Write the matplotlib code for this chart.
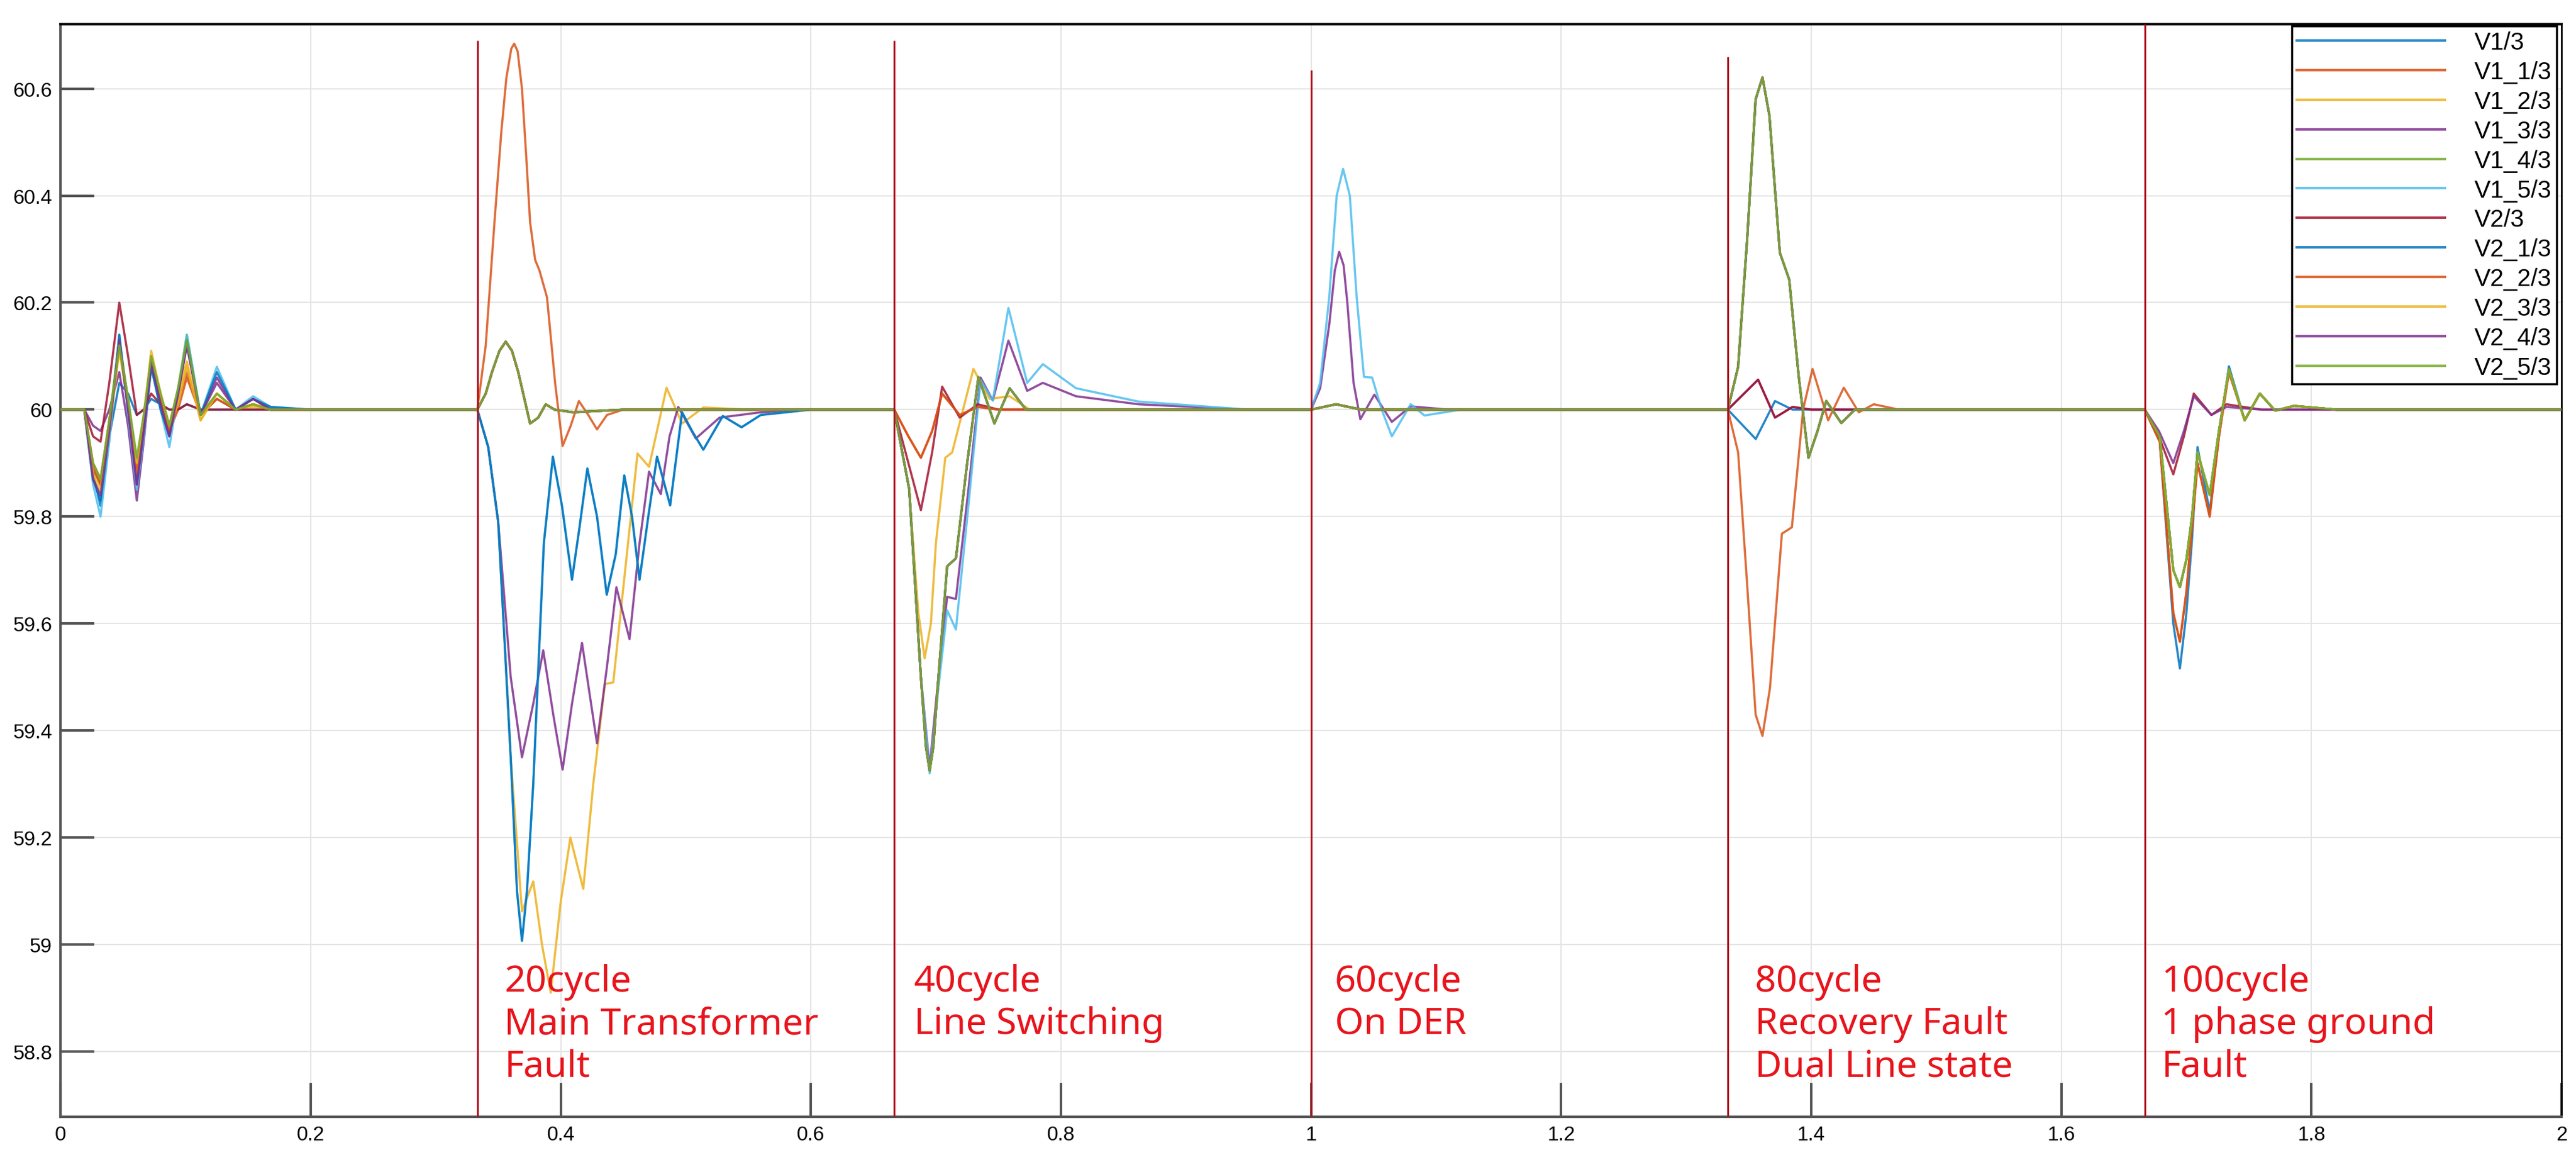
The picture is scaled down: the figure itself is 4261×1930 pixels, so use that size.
import numpy as np
import matplotlib
matplotlib.use("Agg")
import matplotlib.pyplot as plt

NAMES = ["V1/3", "V1_1/3", "V1_2/3", "V1_3/3", "V1_4/3", "V1_5/3",
         "V2/3", "V2_1/3", "V2_2/3", "V2_3/3", "V2_4/3", "V2_5/3"]
COLORS = ["#0072BD", "#D95319", "#EDB120", "#7E2F8E", "#77AC30", "#4DBEEE",
          "#A2142F", "#0072BD", "#D95319", "#EDB120", "#7E2F8E", "#77AC30"]

# start-up oscillation, common time base, one row per series
E0_T = [0.019, 0.026, 0.032, 0.039, 0.047, 0.054, 0.061, 0.0665, 0.0725, 0.08, 0.087, 0.094, 0.101,
        0.112, 0.125, 0.14, 0.154, 0.168, 0.2]
E0_V = [
    [60, 59.88, 59.82, 59.95, 60.05, 60.03, 59.99, 60.0, 60.02, 60.01, 60.0, 60.0, 60.01, 60, 60, 60, 60, 60, 60],
    [60, 59.9, 59.87, 59.98, 60.12, 60.02, 59.9, 59.98, 60.1, 60.02, 59.96, 60.0, 60.06, 59.99, 60.02, 60, 60.01, 60, 60],
    [60, 59.89, 59.86, 59.97, 60.12, 60.01, 59.89, 59.98, 60.11, 60.03, 59.97, 60.02, 60.09, 59.98, 60.03, 60, 60.005, 60, 60],
    [60, 59.97, 59.96, 60.0, 60.07, 59.97, 59.83, 59.94, 60.08, 60.01, 59.95, 60.03, 60.12, 59.99, 60.06, 60, 60.02, 60, 60],
    [60, 59.89, 59.86, 59.98, 60.13, 60.02, 59.9, 59.98, 60.1, 60.03, 59.97, 60.04, 60.14, 59.99, 60.03, 60, 60.01, 60, 60],
    [60, 59.86, 59.8, 59.94, 60.14, 59.99, 59.85, 59.95, 60.09, 60.0, 59.93, 60.03, 60.14, 59.99, 60.08, 60, 60.025, 60.005, 60],
    [60, 59.95, 59.94, 60.05, 60.2, 60.1, 59.99, 60.0, 60.03, 60.01, 60.0, 60.0, 60.01, 60, 60, 60, 60, 60, 60],
    [60, 59.87, 59.83, 59.96, 60.14, 60.0, 59.86, 59.96, 60.08, 60.0, 59.95, 60.03, 60.13, 59.99, 60.07, 60, 60.02, 60.005, 60],
    [60, 59.89, 59.86, 59.97, 60.12, 60.01, 59.88, 59.98, 60.1, 60.02, 59.96, 60.01, 60.07, 59.99, 60.02, 60, 60.01, 60, 60],
    [60, 59.88, 59.85, 59.96, 60.11, 60.01, 59.9, 59.99, 60.1, 60.03, 59.97, 60.01, 60.08, 59.98, 60.03, 60, 60.01, 60, 60],
    [60, 59.87, 59.84, 59.96, 60.13, 60.0, 59.86, 59.96, 60.09, 60.01, 59.95, 60.03, 60.12, 59.99, 60.05, 60, 60.02, 60, 60],
    [60, 59.9, 59.87, 59.98, 60.12, 60.02, 59.91, 59.99, 60.1, 60.03, 59.97, 60.04, 60.13, 59.99, 60.03, 60, 60.01, 60, 60],
]

# 20 cycle: main transformer fault
E1_BIG_T = [0.3333, 0.34, 0.347, 0.3525, 0.3565, 0.3605, 0.3628, 0.3655, 0.369, 0.3725, 0.3755, 0.3795, 0.383,
            0.389, 0.3955, 0.4015, 0.408, 0.4145, 0.422, 0.429, 0.437, 0.45]
E1_BIG_V = [60, 60.12, 60.35, 60.52, 60.62, 60.675, 60.684, 60.67, 60.6, 60.47, 60.35, 60.28, 60.26,
            60.21, 60.05, 59.932, 59.97, 60.016, 59.99, 59.963, 59.99, 60]
E1_SMALL_T = [0.3333, 0.34, 0.345, 0.351, 0.356, 0.361, 0.366, 0.3755, 0.382, 0.388, 0.395, 0.41, 0.45]
E1_SMALL_V = [60, 60.03, 60.07, 60.11, 60.127, 60.11, 60.07, 59.974, 59.985, 60.01, 60.0, 59.995, 60]
E1_DEEP_T = [0.3333, 0.342, 0.35, 0.36, 0.365, 0.369, 0.373, 0.378, 0.3865, 0.3937, 0.401, 0.409, 0.415, 0.4213,
             0.429, 0.4368, 0.444, 0.4508, 0.457, 0.463, 0.47, 0.477, 0.4875, 0.497, 0.505, 0.514, 0.5296,
             0.5446, 0.56, 0.6]
E1_DEEP_V = [60, 59.93, 59.79, 59.35, 59.1, 59.007, 59.1, 59.3, 59.75, 59.912, 59.82, 59.682, 59.78, 59.89,
             59.8, 59.654, 59.73, 59.877, 59.8, 59.682, 59.8, 59.912, 59.821, 59.995, 59.96, 59.925, 59.988,
             59.967, 59.99, 60]
E1_PURPLE_T = [0.3333, 0.342, 0.35, 0.36, 0.369, 0.378, 0.386, 0.394, 0.4015, 0.409, 0.417, 0.423, 0.429, 0.437,
               0.4445, 0.455, 0.463, 0.4706, 0.48, 0.487, 0.494, 0.508, 0.527, 0.56, 0.6]
E1_PURPLE_V = [60, 59.93, 59.79, 59.5, 59.35, 59.45, 59.55, 59.43, 59.327, 59.45, 59.564, 59.47, 59.376, 59.52,
               59.668, 59.571, 59.75, 59.884, 59.842, 59.95, 60.005, 59.946, 59.985, 59.995, 60]
E1_YELLOW_T = [0.3333, 0.342, 0.35, 0.36, 0.369, 0.378, 0.385, 0.392, 0.4, 0.4077, 0.418, 0.426, 0.4353, 0.442,
               0.4614, 0.4706, 0.4846, 0.497, 0.514, 0.55]
E1_YELLOW_V = [60, 59.93, 59.79, 59.35, 59.062, 59.118, 59.0, 58.91, 59.08, 59.2, 59.104, 59.3, 59.487, 59.49,
               59.918, 59.893, 60.041, 59.974, 60.004, 60]

# 40 cycle: line switching
E2_DEEP_T = [0.6667, 0.6786, 0.688, 0.692, 0.695, 0.698, 0.702, 0.709, 0.716, 0.725, 0.734, 0.7468, 0.759, 0.772, 0.8]
E2_DEEP_V = [60, 59.852, 59.5, 59.37, 59.325, 59.37, 59.5, 59.707, 59.722, 59.9, 60.061, 59.974, 60.04, 60.0, 60]
E2_SLOW_T = [0.6667, 0.6786, 0.688, 0.695, 0.702, 0.709, 0.716, 0.726, 0.7357, 0.7455, 0.758, 0.773, 0.7855,
             0.812, 0.862, 0.95]
E2_PURPLE_V = [60, 59.852, 59.5, 59.33, 59.5, 59.65, 59.646, 59.85, 60.06, 60.017, 60.129, 60.035, 60.05,
               60.025, 60.01, 60]
E2_LBLUE_V = [60, 59.852, 59.5, 59.32, 59.48, 59.625, 59.589, 59.82, 60.055, 60.017, 60.19, 60.05, 60.085,
              60.04, 60.015, 60]
E2_YELLOW_T = [0.6667, 0.6786, 0.686, 0.691, 0.696, 0.7, 0.7075, 0.713, 0.73, 0.743, 0.759, 0.775]
E2_YELLOW_V = [60, 59.85, 59.62, 59.535, 59.6, 59.75, 59.91, 59.92, 60.076, 60.02, 60.025, 60]
E2_RED_T = [0.6667, 0.678, 0.688, 0.697, 0.705, 0.719, 0.7335, 0.75]
E2_RED_V = [60, 59.9, 59.812, 59.92, 60.043, 59.985, 60.01, 60]
E2_SHALLOW_V = [60, 59.95, 59.91, 59.96, 60.03, 59.99, 60.005, 60]

# 60 cycle: DER on
E3_LB_T = [1.0, 1.0073, 1.0146, 1.0205, 1.0256, 1.031, 1.0365, 1.0423, 1.0488, 1.0565, 1.0646, 1.0797, 1.0907, 1.12]
E3_LB_V = [60, 60.05, 60.212, 60.4, 60.45, 60.4, 60.21, 60.061, 60.06, 60.0, 59.95, 60.01, 59.989, 60]
E3_PU_T = [1.0, 1.0073, 1.0146, 1.019, 1.0225, 1.026, 1.029, 1.034, 1.0394, 1.0506, 1.0646, 1.0797, 1.11]
E3_PU_V = [60, 60.04, 60.16, 60.26, 60.295, 60.27, 60.2, 60.05, 59.982, 60.028, 59.977, 60.006, 60]
E3_FLAT_T = [1.0, 1.02, 1.04]
E3_FLAT_V = [60, 60.01, 60]

# 80 cycle: recovery fault, dual line state
E4_BIG_T = [1.3333, 1.3415, 1.3486, 1.3555, 1.361, 1.3665, 1.3749, 1.3824, 1.39, 1.3978, 1.405, 1.412, 1.424, 1.435, 1.46]
E4_BIG_V = [60, 60.08, 60.313, 60.58, 60.621, 60.55, 60.293, 60.243, 60.061, 59.91, 59.96, 60.016, 59.975, 60.0, 60]
E4_DEEP_T = [1.3333, 1.3415, 1.3486, 1.3555, 1.361, 1.367, 1.3765, 1.3845, 1.3935, 1.401, 1.4135, 1.426, 1.438, 1.45, 1.47]
E4_DEEP_V = [60, 59.92, 59.678, 59.43, 59.39, 59.48, 59.768, 59.78, 60.0, 60.076, 59.98, 60.041, 59.995, 60.01, 60]
E4_UP_T = [1.3333, 1.3575, 1.371, 1.385, 1.40]
E4_UP_V = [60, 60.056, 59.985, 60.005, 60]
E4_DN_T = [1.3333, 1.3556, 1.371, 1.385, 1.40]
E4_DN_V = [60, 59.945, 60.016, 60.0, 60]

# 100 cycle: 1 phase ground fault
E5_T = [1.6667, 1.6787, 1.6895, 1.6948, 1.7, 1.7045, 1.7089, 1.7186, 1.726, 1.734, 1.7466, 1.7587, 1.771, 1.786, 1.82]
E5_BLUE_V = [60, 59.94, 59.6, 59.516, 59.62, 59.758, 59.93, 59.809, 59.95, 60.081, 59.98, 60.03, 59.998, 60.007, 60]
E5_ORANGE_V = [60, 59.94, 59.62, 59.566, 59.66, 59.78, 59.9, 59.8, 59.95, 60.07, 59.98, 60.03, 59.998, 60.007, 60]
E5_GREEN_V = [60, 59.95, 59.7, 59.668, 59.72, 59.8, 59.92, 59.84, 59.96, 60.075, 59.98, 60.03, 59.998, 60.007, 60]
E5_SH_T = [1.6667, 1.678, 1.6895, 1.698, 1.7059, 1.72, 1.732, 1.76]
E5_RED_V = [60, 59.95, 59.879, 59.95, 60.03, 59.99, 60.01, 60]
E5_PURPLE_V = [60, 59.96, 59.9, 59.96, 60.025, 59.99, 60.005, 60]

E1 = {"big": (E1_BIG_T, E1_BIG_V), "small": (E1_SMALL_T, E1_SMALL_V), "deep": (E1_DEEP_T, E1_DEEP_V),
      "purple": (E1_PURPLE_T, E1_PURPLE_V), "yellow": (E1_YELLOW_T, E1_YELLOW_V)}
E2 = {"deep": (E2_DEEP_T, E2_DEEP_V), "purple": (E2_SLOW_T, E2_PURPLE_V), "lblue": (E2_SLOW_T, E2_LBLUE_V),
      "yellow": (E2_YELLOW_T, E2_YELLOW_V), "red": (E2_RED_T, E2_RED_V), "shallow": (E2_RED_T, E2_SHALLOW_V)}
E3 = {"lblue": (E3_LB_T, E3_LB_V), "purple": (E3_PU_T, E3_PU_V), "flat": (E3_FLAT_T, E3_FLAT_V)}
E4 = {"big": (E4_BIG_T, E4_BIG_V), "deep": (E4_DEEP_T, E4_DEEP_V), "up": (E4_UP_T, E4_UP_V), "dn": (E4_DN_T, E4_DN_V)}
E5 = {"blue": (E5_T, E5_BLUE_V), "orange": (E5_T, E5_ORANGE_V), "green": (E5_T, E5_GREEN_V),
      "red": (E5_SH_T, E5_RED_V), "purple": (E5_SH_T, E5_PURPLE_V)}

# which response each series shows at each event
ASSIGN = [
    ("small", "deep", "flat", "dn", "blue"),
    ("big", "shallow", "flat", "big", "orange"),
    ("yellow", "yellow", "flat", "big", "green"),
    ("purple", "purple", "purple", "up", "green"),
    ("small", "deep", "flat", "big", "green"),
    ("deep", "lblue", "lblue", "big", "green"),
    ("small", "red", "flat", "up", "red"),
    ("deep", "deep", "flat", "big", "green"),
    ("small", "shallow", "flat", "deep", "orange"),
    ("small", "deep", "flat", "big", "green"),
    ("small", "deep", "flat", "big", "purple"),
    ("small", "deep", "flat", "big", "green"),
]

EVENT_X = [1 / 3, 2 / 3, 1.0, 4 / 3, 5 / 3]
EVENT_TOP = [60.69, 60.69, 60.635, 60.66, 60.72]
EVENT_LABELS = ["20cycle\nMain Transformer\nFault", "40cycle\nLine Switching", "60cycle\nOn DER",
                "80cycle\nRecovery Fault\nDual Line state", "100cycle\n1 phase ground\nFault"]
LABEL_X = [0.355, 0.6825, 1.019, 1.355, 1.680]

YMIN, YMAX = 58.678, 60.721

fig = plt.figure(figsize=(42.61, 19.31), dpi=100)
ax = fig.add_axes([0.0235, 0.043, 0.9709, 0.936])

for i, name in enumerate(NAMES):
    t = [0.0] + list(E0_T)
    v = [60.0] + list(E0_V[i])
    for ev, key in zip((E1, E2, E3, E4, E5), ASSIGN[i]):
        et, evv = ev[key]
        t += list(et)
        v += list(evv)
    t.append(2.0)
    v.append(60.0)
    ax.plot(t, v, color=COLORS[i], lw=2.6, alpha=0.85, label=name, zorder=3, solid_joinstyle="round")

ax.vlines(EVENT_X, YMIN, EVENT_TOP, color="#B0101C", lw=2.2, zorder=4)
for x, lab in zip(LABEL_X, EVENT_LABELS):
    ax.text(x, 58.965, lab, color="#E8141C", fontsize=44, va="top", ha="left",
            linespacing=1.2, family="Noto Sans", zorder=5)

ax.set_xlim(0, 2)
ax.set_ylim(YMIN, YMAX)
xt = np.arange(0, 2.01, 0.2)
ax.set_xticks(xt)
ax.set_xticklabels(["0", "0.2", "0.4", "0.6", "0.8", "1", "1.2", "1.4", "1.6", "1.8", "2"])
yt = [58.8, 59.0, 59.2, 59.4, 59.6, 59.8, 60.0, 60.2, 60.4, 60.6]
ax.set_yticks(yt)
ax.set_yticklabels(["58.8", "59", "59.2", "59.4", "59.6", "59.8", "60", "60.2", "60.4", "60.6"])
ax.tick_params(direction="in", length=40, width=3, color="#555555", labelsize=24, pad=10)
for lab in ax.get_xticklabels() + ax.get_yticklabels():
    lab.set_family("Liberation Sans")
ax.grid(True, color="#e4e4e4", lw=1.6)
ax.set_axisbelow(True)
for s in ("left", "bottom"):
    ax.spines[s].set_color("#555555")
    ax.spines[s].set_linewidth(3)
ax.spines["top"].set_linewidth(3)
ax.spines["right"].set_linewidth(2)

leg = ax.legend(loc="upper right", bbox_to_anchor=(0.998, 0.998), handlelength=6.1,
                labelspacing=0.27, borderaxespad=0.0, fancybox=False, framealpha=1,
                edgecolor="black", borderpad=0.2, handletextpad=1.2,
                prop={"family": "Liberation Sans", "size": 29})
leg.get_frame().set_linewidth(2.5)
for line in leg.get_lines():
    line.set_linewidth(3)

fig.savefig("out.png", dpi=100)
